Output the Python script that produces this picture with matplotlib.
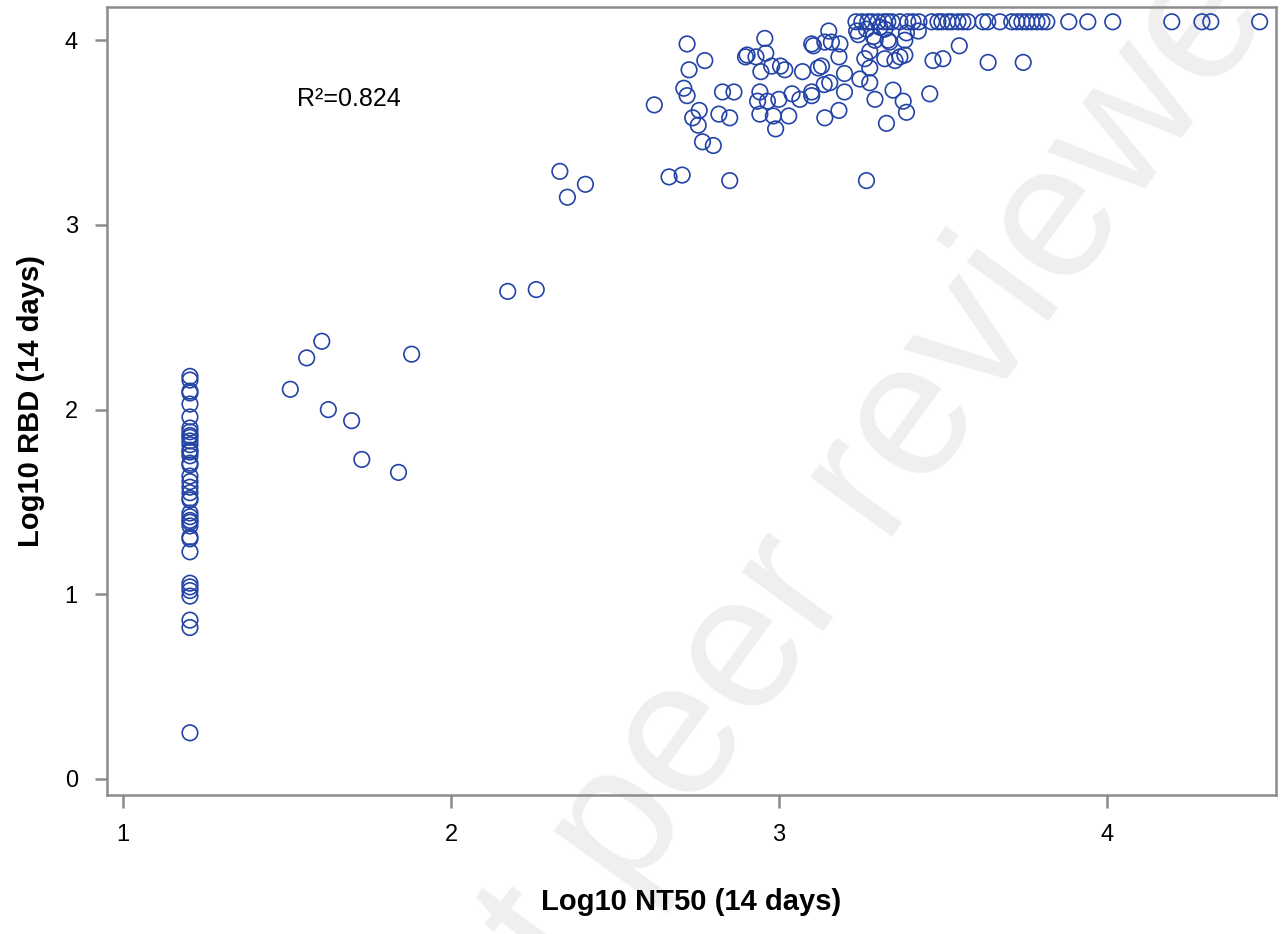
import matplotlib.pyplot as plt

plt.rcParams['font.family'] = ['Liberation Sans', 'DejaVu Sans']

# left column: NT50 at the detection limit
low_x = 1.204
low_y = [2.18, 2.16, 2.10, 2.09, 2.03, 1.96, 1.90, 1.88, 1.86, 1.85, 1.83, 1.81,
         1.78, 1.77, 1.75, 1.71, 1.70, 1.64, 1.61, 1.58, 1.55, 1.52, 1.51, 1.44,
         1.42, 1.40, 1.39, 1.37, 1.31, 1.30, 1.23, 1.06, 1.04, 1.02, 0.99, 0.86,
         0.82, 0.25]

# scattered points
mid_x = [1.51, 1.56, 1.606, 1.626, 1.697, 1.728, 1.84, 1.88,
         2.173, 2.26, 2.332, 2.355, 2.41,
         2.62, 2.665, 2.705, 2.72, 2.726, 2.71, 2.72, 2.757, 2.737, 2.754, 2.767, 2.80, 2.774, 2.85,
         2.828, 2.863, 2.817, 2.85,
         2.898, 2.903, 2.93, 2.957, 2.96, 2.945, 2.978, 3.005, 3.018, 3.072,
         2.942, 2.935, 2.965, 3.0, 3.04, 3.064, 3.10, 3.10,
         2.942, 2.983, 3.03, 2.99, 3.14, 3.183,
         3.10, 3.105, 3.14, 3.152, 3.16, 3.186, 3.183, 3.12, 3.13, 3.138, 3.155, 3.20, 3.20,
         3.237, 3.242, 3.267, 3.288, 3.308, 3.323, 3.333, 3.338, 3.293, 3.384, 3.389, 3.425,
         3.277, 3.262, 3.323, 3.354, 3.369, 3.384, 3.277, 3.247, 3.277,
         3.47, 3.50, 3.55, 3.638, 3.745,
         3.348, 3.379, 3.389, 3.46, 3.293, 3.328, 3.267]
mid_y = [2.11, 2.28, 2.37, 2.00, 1.94, 1.73, 1.66, 2.30,
         2.64, 2.65, 3.29, 3.15, 3.22,
         3.65, 3.26, 3.27, 3.98, 3.84, 3.74, 3.70, 3.62, 3.58, 3.54, 3.45, 3.43, 3.89, 3.24,
         3.72, 3.72, 3.60, 3.58,
         3.91, 3.92, 3.91, 4.01, 3.93, 3.83, 3.86, 3.86, 3.84, 3.83,
         3.72, 3.67, 3.67, 3.68, 3.71, 3.68, 3.70, 3.72,
         3.60, 3.59, 3.59, 3.52, 3.58, 3.62,
         3.98, 3.97, 3.99, 4.05, 3.99, 3.98, 3.91, 3.85, 3.86, 3.76, 3.77, 3.82, 3.72,
         4.05, 4.03, 4.06, 4.02, 4.07, 4.06, 4.00, 3.99, 4.00, 4.00, 4.04, 4.05,
         3.94, 3.90, 3.90, 3.89, 3.91, 3.92, 3.85, 3.79, 3.77,
         3.89, 3.90, 3.97, 3.88, 3.88,
         3.73, 3.67, 3.61, 3.71, 3.68, 3.55, 3.24]

# top row: RBD at the upper limit
top_y = 4.10
top_x = [3.235, 3.253, 3.271, 3.284, 3.302, 3.320, 3.332, 3.345, 3.369, 3.393,
         3.409, 3.427, 3.466, 3.485, 3.497, 3.515, 3.527, 3.546, 3.561, 3.576,
         3.622, 3.637, 3.674, 3.710, 3.726, 3.741, 3.756, 3.771, 3.787, 3.802,
         3.817, 3.884, 3.942, 4.018, 4.198, 4.290, 4.317, 4.466]

xs = [low_x] * len(low_y) + mid_x + top_x
ys = low_y + mid_y + [top_y] * len(top_x)

fig = plt.figure(figsize=(12.86, 9.34), dpi=100)

# watermark behind the plot
fig.text(0.66, 0.45, 'not peer reviewed', fontsize=138, color='#efefef',
         rotation=54, ha='center', va='center', zorder=0)

ax = fig.add_axes([0.0832, 0.1488, 0.9088, 0.8437])
ax.set_zorder(1)
ax.patch.set_alpha(0)
ax.scatter(xs, ys, s=125, facecolors='none', edgecolors='#2343a6', linewidths=1.2)

ax.set_xlim(0.951, 4.515)
ax.set_ylim(-0.087, 4.18)
ax.set_xticks([1, 2, 3, 4])
ax.set_yticks([0, 1, 2, 3, 4])
for s in ax.spines.values():
    s.set_color('#8c8c8c')
    s.set_linewidth(1.8)
ax.tick_params(colors='#8c8c8c', labelcolor='black', width=1.8, length=9,
               labelsize=17, pad=12)

ax.set_xlabel('Log10 NT50 (14 days)', fontsize=21, fontweight='bold', labelpad=30)
ax.set_ylabel('Log10 RBD (14 days)', fontsize=21, fontweight='bold', labelpad=14)

ax.text(1.53, 3.68, 'R²=0.824', fontsize=18, va='center')

fig.savefig('out.png', dpi=100)
